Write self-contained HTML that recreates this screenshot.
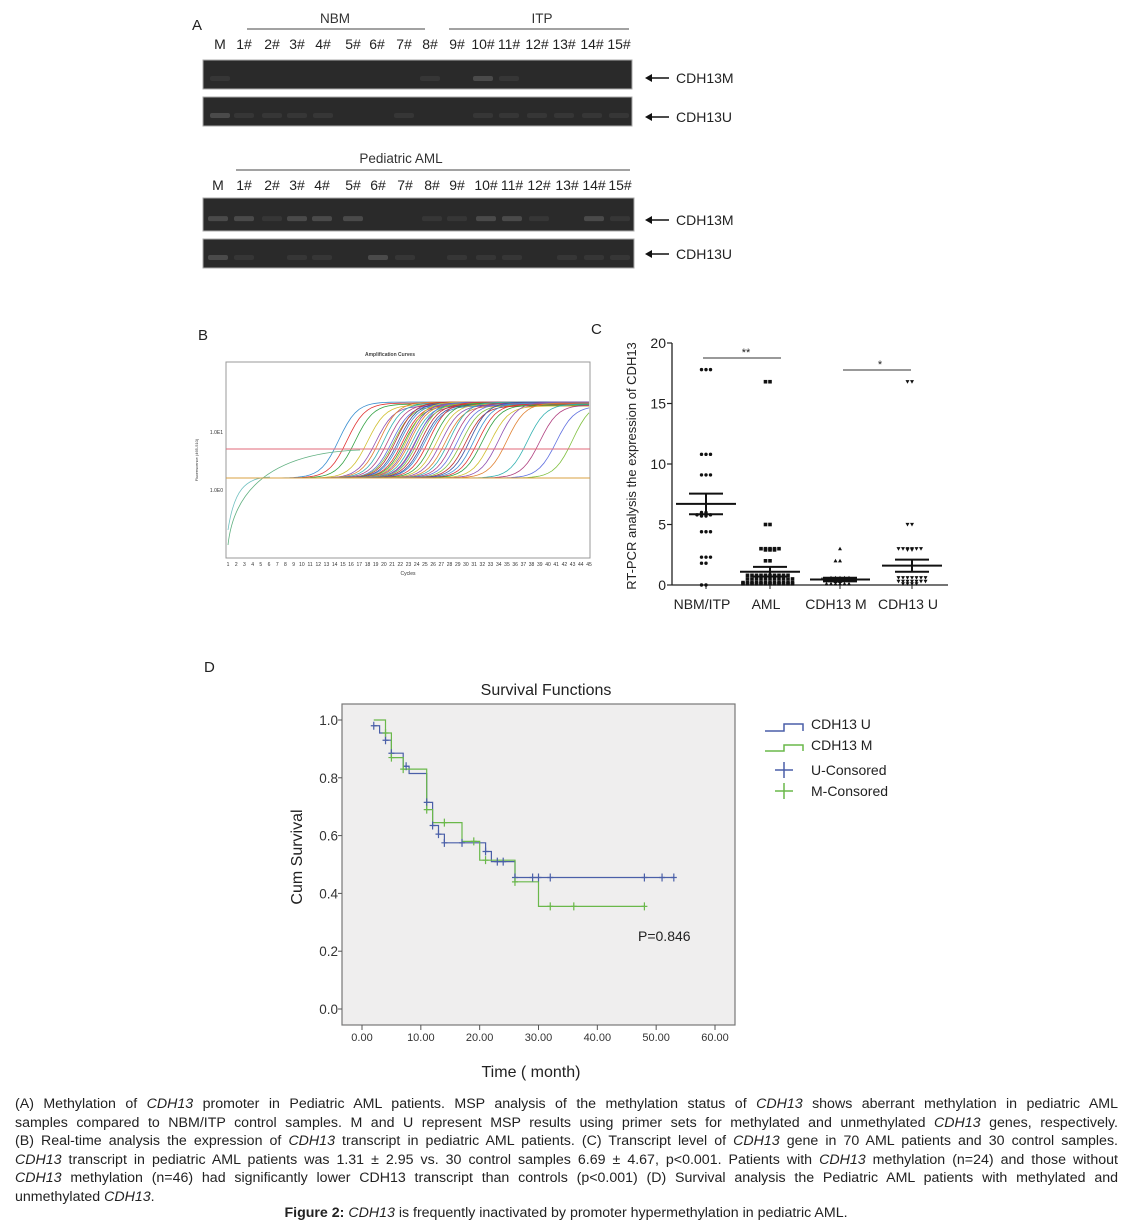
<!DOCTYPE html>
<html><head><meta charset="utf-8">
<style>
html,body{margin:0;padding:0;background:#fff;}
body{width:1132px;height:1228px;position:relative;overflow:hidden;font-family:"Liberation Sans",Arial,sans-serif;}
svg{position:absolute;left:0;top:0;}
.cap{position:absolute;left:15px;width:1103px;font-size:14.2px;line-height:18.4px;color:#222;text-align:justify;text-align-last:justify;white-space:nowrap;}
.cap.last{text-align-last:left;}
</style></head>
<body>
<svg id="fig" width="1132" height="1228" viewBox="0 0 1132 1228" xmlns="http://www.w3.org/2000/svg" font-family="Liberation Sans, Arial, sans-serif">
  <g>
    <text x="192" y="30" font-size="15" fill="#222">A</text>
    <text x="335" y="23" font-size="13.5" text-anchor="middle" fill="#333">NBM</text>
    <line x1="247" y1="29" x2="425" y2="29" stroke="#444" stroke-width="1"/>
    <text x="542" y="23" font-size="13.5" text-anchor="middle" fill="#333">ITP</text>
    <line x1="449" y1="29" x2="629" y2="29" stroke="#444" stroke-width="1"/>
    <text x="401" y="163" font-size="13.5" text-anchor="middle" fill="#333">Pediatric  AML</text>
    <line x1="236" y1="170" x2="630" y2="170" stroke="#444" stroke-width="1"/>
    <g id="gels"></g>
    <g font-size="14" fill="#222">
      <text x="676" y="83">CDH13M</text><text x="676" y="122">CDH13U</text>
      <text x="676" y="225">CDH13M</text><text x="676" y="259">CDH13U</text>
    </g>
    <g stroke="#111" stroke-width="1.6">
      <line x1="648" y1="78" x2="669" y2="78"/><line x1="648" y1="117" x2="669" y2="117"/>
      <line x1="648" y1="220" x2="669" y2="220"/><line x1="648" y1="254" x2="669" y2="254"/>
    </g>
    <g fill="#111">
      <polygon points="645,78 652,74 652,82"/><polygon points="645,117 652,113 652,121"/>
      <polygon points="645,220 652,216 652,224"/><polygon points="645,254 652,250 652,258"/>
    </g>
  </g>

  <g>
    <text x="198" y="340" font-size="15" fill="#222">B</text>
    <text x="390" y="356" font-size="5" font-weight="bold" text-anchor="middle" fill="#444">Amplification Curves</text>
    <rect x="226" y="362" width="364" height="196" fill="#fff" stroke="#999" stroke-width="1"/>
    <text x="223" y="434" font-size="5" text-anchor="end" fill="#333">1.0E1</text>
    <text x="223" y="492" font-size="5" text-anchor="end" fill="#333">1.0E0</text>
    <text x="198" y="460" font-size="4" fill="#333" transform="rotate(-90 198 460)" text-anchor="middle">Fluorescence (465-510)</text>
    <g id="amp"></g>
    <line x1="226" y1="449" x2="590" y2="449" stroke="#e06a7a" stroke-width="1"/>
    <line x1="226" y1="478" x2="590" y2="478" stroke="#d9a040" stroke-width="1"/>
    <g id="cycleTicks" font-size="5" fill="#333" text-anchor="middle"></g>
    <text x="408" y="575" font-size="5" text-anchor="middle" fill="#333">Cycles</text>
  </g>

  <g>
    <text x="591" y="334" font-size="15" fill="#222">C</text>
    <text x="636" y="466" font-size="13" text-anchor="middle" fill="#222" transform="rotate(-90 636 466)">RT-PCR analysis the expression of CDH13</text>
    <g id="scatter"></g>
  </g>

  <g>
    <text x="204" y="672" font-size="15" fill="#222">D</text>
    <text x="546" y="695" font-size="16" text-anchor="middle" fill="#222">Survival Functions</text>
    <rect x="342" y="704" width="393" height="321" fill="#efeeee" stroke="#777" stroke-width="1.2"/>
    <text x="302" y="857" font-size="16" text-anchor="middle" fill="#222" transform="rotate(-90 302 857)">Cum Survival</text>
    <text x="531" y="1077" font-size="16" text-anchor="middle" fill="#222">Time ( month)</text>
    <g id="surv"></g>
    <text x="638" y="941" font-size="14" fill="#222">P=0.846</text>
    <g font-size="14" fill="#222">
      <g>
        <polyline points="765,731 784,731 784,724 803,724 803,731" fill="none" stroke="#4a5fa8" stroke-width="1.5"/>
        <text x="811" y="729">CDH13 U</text></g>
      <g>
        <polyline points="765,751 784,751 784,745 803,745 803,751" fill="none" stroke="#6ab84a" stroke-width="1.5"/>
        <text x="811" y="750">CDH13 M</text></g>
      <g>
        <line x1="775" y1="770" x2="793" y2="770" stroke="#4a5fa8" stroke-width="1.5"/><line x1="784" y1="762" x2="784" y2="778" stroke="#4a5fa8" stroke-width="1.5"/>
        <text x="811" y="775">U-Consored</text></g>
      <g>
        <line x1="775" y1="791" x2="793" y2="791" stroke="#6ab84a" stroke-width="1.5"/><line x1="784" y1="783" x2="784" y2="799" stroke="#6ab84a" stroke-width="1.5"/>
        <text x="811" y="796">M-Consored</text></g>
    </g>
  </g>
</svg>

<div class="cap" style="top:1095px">(A) Methylation of <i>CDH13</i> promoter in Pediatric AML patients. MSP analysis of the methylation status of <i>CDH13</i> shows aberrant methylation in pediatric AML</div>
<div class="cap" style="top:1113.5px">samples compared to NBM/ITP control samples. M and U represent MSP results using primer sets for methylated and unmethylated <i>CDH13</i> genes, respectively.</div>
<div class="cap" style="top:1132px">(B) Real-time analysis the expression of <i>CDH13</i> transcript in pediatric AML patients. (C) Transcript level of <i>CDH13</i> gene in 70 AML patients and 30 control samples.</div>
<div class="cap" style="top:1150.5px"><i>CDH13</i> transcript in pediatric AML patients was 1.31 ± 2.95 vs. 30 control samples 6.69 ± 4.67, p&lt;0.001. Patients with <i>CDH13</i> methylation (n=24) and those without</div>
<div class="cap" style="top:1169px"><i>CDH13</i> methylation (n=46) had significantly lower CDH13 transcript than controls (p&lt;0.001) (D) Survival analysis the Pediatric AML patients with methylated and</div>
<div class="cap last" style="top:1187.5px">unmethylated <i>CDH13</i>.</div>
<div style="position:absolute;left:0;width:1132px;top:1205px;text-align:center;font-size:14.2px;color:#222;"><b>Figure 2:</b> <i>CDH13</i> is frequently inactivated by promoter hypermethylation in pediatric AML.</div>

<script>
const groups = ["NBM/ITP","AML","CDH13 M","CDH13 U"];
const nbmVals = [17.8,17.8,17.8,10.8,10.8,10.8,9.1,9.1,9.1,6.0,6.0,5.9,5.8,5.8,5.8,5.8,5.7,5.7,5.9,4.4,4.4,4.4,2.3,2.3,2.3,1.8,1.8,0,0];
const amlVals = [16.8,16.8,5.0,5.0,3.0,3.0,3.0,2.9,2.9,2.9,3.0,3.0,2.0,2.0,0.8,0.8,0.8,0.8,0.8,0.8,0.8,0.8,0.8,0.8,0.5,0.5,0.5,0.5,0.5,0.5,0.5,0.5,0.5,0.5,0.5,0.2,0.2,0.2,0.2,0.2,0.2,0.2,0.2,0.2,0.2,0.2,0.2,0.1,0.1,0.1,0.1,0.1,0.1,0.1,0.1,0.1,0.1,0.1,0.1];
const mVals = [3.0,2.0,2.0,0.6,0.6,0.6,0.6,0.6,0.5,0.5,0.5,0.5,0.5,0.5,0.5,0.5,0.3,0.3,0.1,0.1,0.1,0.1,0.1,0.1];
const uVals = [16.8,16.8,5.0,5.0,3.0,3.0,2.9,2.9,3.0,3.0,3.0,3.0,0.6,0.6,0.6,0.6,0.6,0.6,0.6,0.3,0.3,0.3,0.3,0.3,0.3,0.3,0.1,0.1,0.1,0.1];
const groupMeans = [6.7,1.1,0.45,1.6];
const groupSem = [0.85,0.4,0.15,0.5];
const yTicksC = [0,5,10,15,20];

const uSteps = [[0,0.98],[3,0.955],[4,0.93],[5,0.885],[7,0.84],[8,0.815],[11,0.715],[12,0.635],[13,0.605],[14,0.575],[21,0.545],[22,0.51],[26,0.455],[53,0.455]];
const mSteps = [[0,1.0],[4,0.955],[5,0.87],[7,0.83],[11,0.69],[12,0.645],[17,0.58],[20,0.515],[26,0.44],[30,0.355],[48,0.355]];
const uCensorT = [2,4,5,7.5,11,12,13,14,17,21,23,24,26,29,30,32,48,51,53];
const mCensorT = [4,5,7,11,14,19,21,26,32,36,48];
const survTicksY = [0,0.2,0.4,0.6,0.8,1.0];
const survTicksX = [0,10,20,30,40,50,60];
const survStart = {u:2, m:2};

const ctValues = [14.5,15.5,16.5,18,19,19.5,20,20.5,21,21.2,21.5,21.8,22,22.3,22.5,22.8,23,23.2,23.5,23.8,24,24.2,24.5,24.8,25,25.5,26,26.5,27,27.5,28,28.5,29,29.5,30,30.5,31,31.5,32,33,34,35,37.5,39,41,43];
const curveColors = ["#3a8fd0","#e03030","#30a040","#d0c030","#9050b0","#e08030","#30b0b0","#b04080","#6070e0","#80c040","#c03030","#4050a0"];

const NS = "http://www.w3.org/2000/svg";
function mk(parent, tag, attrs){ const e=document.createElementNS(NS,tag); for(const k in attrs) e.setAttribute(k,attrs[k]); parent.appendChild(e); return e; }

(function(){
  const g=document.getElementById('gels');
  const labels=["M","1#","2#","3#","4#","5#","6#","7#","8#","9#","10#","11#","12#","13#","14#","15#"];
  const lanesTopX=[220,244,272,297,323,353,377,404,430,457,483,509,537,564,592,619];
  const lanesBotX=[218,244,272,297,322,353,378,405,432,457,486,512,539,567,594,620];
  const lab=mk(g,'g',{'font-size':'14','fill':'#222','text-anchor':'middle'});
  labels.forEach((t,i)=>{ const a=mk(lab,'text',{x:lanesTopX[i],y:49}); a.textContent=t;
    const b=mk(lab,'text',{x:lanesBotX[i],y:190}); b.textContent=t; });
  const gelsDef=[[203,60,429,29,lanesTopX,[1,0,0,0,0,0,0,0,1,0,2,1,0,0,0,0]],
                 [203,97,429,29,lanesTopX,[2,1,1,1,1,0,0,1,0,0,1,1,1,1,1,1]],
                 [203,198,431,33,lanesBotX,[2,2,1,2,2,2,0,0,1,1,2,2,1,0,2,1]],
                 [203,239,431,29,lanesBotX,[2,1,0,1,1,0,2,1,0,1,1,1,0,1,1,1]]];
  gelsDef.forEach((d,gi)=>{
    const r=mk(g,'rect',{x:d[0],y:d[1],width:d[2],height:d[3],fill:'#2a2a2a',stroke:'#aaa','stroke-width':1});
    
    
    d[4].forEach((lx,i)=>{
      const s=d[5][i]; if(!s) return;
      mk(g,'rect',{x:lx-10,y:d[1]+d[3]*0.55,width:20,height:5,rx:2,fill:s==2?'#4a4a4a':'#363636'});
    });
  });
})();

(function(){
  const g=document.getElementById('amp');
  const x0=228,x1=589; const cx=c=>x0+(c-1)*(x1-x0)/44;
  const base=478, plat=402;
  ctValues.forEach((ct,i)=>{
    let d='';
    for(let c=1;c<=45;c+=0.5){
      const y=base-(base-plat-(i%5))/(1+Math.exp(-(c-ct)*0.9));
      d+=(d?'L':'M')+cx(c).toFixed(1)+','+y.toFixed(1);
    }
    const p=mk(g,'path',{d:d,fill:'none',stroke:curveColors[i%curveColors.length],'stroke-width':0.8});
    
    
  });
  mk(g,'path',{d:'M228,530 C234,490 245,478 270,477',fill:'none',stroke:'#70c0c0','stroke-width':0.8});
  mk(g,'path',{d:'M228,545 C236,470 300,452 360,450',fill:'none',stroke:'#60b080','stroke-width':0.8});
  const t=document.getElementById('cycleTicks');
  for(let c=1;c<=45;c++){ const e=mk(t,'text',{x:cx(c),y:566}); e.textContent=c; }
})();

(function(){
  const g=document.getElementById('scatter');
  const ax=672, y0=585, yTop=343;
  const Y=v=>y0-(v/20)*(y0-yTop);
  const gx=[706,770,840,912];
  mk(g,'line',{x1:ax,y1:yTop,x2:ax,y2:y0,stroke:'#222','stroke-width':1.3});
  mk(g,'line',{x1:ax,y1:y0,x2:948,y2:y0,stroke:'#222','stroke-width':1.3});
  yTicksC.forEach(v=>{
    mk(g,'line',{x1:ax-5,y1:Y(v),x2:ax,y2:Y(v),stroke:'#222','stroke-width':1.2});
    const e=mk(g,'text',{x:ax-6,y:Y(v)+5,'font-size':14,'text-anchor':'end',fill:'#222'}); e.textContent=v;
  });
  groups.forEach((n,i)=>{
    mk(g,'line',{x1:gx[i],y1:y0,x2:gx[i],y2:y0+4,stroke:'#222'});
    const e=mk(g,'text',{x:gx[i]-4,y:609,'font-size':14,'text-anchor':'middle',fill:'#222'}); e.textContent=n;
    
    
  });
  const sets=[nbmVals,amlVals,mVals,uVals];
  sets.forEach((vals,gi)=>{
    const counts={};
    vals.forEach(v=>{
      const key=v.toFixed(1); const k=counts[key]=(counts[key]||0)+1;
      const off=(k%2?1:-1)*Math.floor(k/2)*4.5;
      const x=gx[gi]+off, y=Y(v);
      let m;
      if(gi<2) m=mk(g,gi==0?'circle':'rect', gi==0?{cx:x,cy:y,r:1.7,fill:'#111'}:{x:x-1.8,y:y-1.8,width:3.6,height:3.6,fill:'#111'});
      else if(gi==2) m=mk(g,'polygon',{points:`${x},${y-2} ${x-2},${y+1.6} ${x+2},${y+1.6}`,fill:'#111'});
      else m=mk(g,'polygon',{points:`${x},${y+2} ${x-2},${y-1.6} ${x+2},${y-1.6}`,fill:'#111'});
      
      
    });
    const mx=gx[gi], mean=groupMeans[gi], sem=groupSem[gi];
    mk(g,'line',{x1:mx-30,y1:Y(mean),x2:mx+30,y2:Y(mean),stroke:'#111','stroke-width':2});
    mk(g,'line',{x1:mx-17,y1:Y(mean+sem),x2:mx+17,y2:Y(mean+sem),stroke:'#111','stroke-width':2});
    mk(g,'line',{x1:mx-17,y1:Y(mean-sem),x2:mx+17,y2:Y(mean-sem),stroke:'#111','stroke-width':2});
    mk(g,'line',{x1:mx,y1:Y(mean+sem),x2:mx,y2:Y(mean-sem),stroke:'#111','stroke-width':2});
  });
  mk(g,'line',{x1:703,y1:358,x2:781,y2:358,stroke:'#333','stroke-width':1});
  mk(g,'text',{x:746,y:356,'font-size':11,'text-anchor':'middle',fill:'#222'}).textContent='**';
  mk(g,'line',{x1:843,y1:370,x2:911,y2:370,stroke:'#333','stroke-width':1});
  mk(g,'text',{x:880,y:368,'font-size':11,'text-anchor':'middle',fill:'#222'}).textContent='*';
})();

(function(){
  const g=document.getElementById('surv');
  const X=t=>362+t*(715-362)/60, Y=s=>1009-s*(1009-720);
  survTicksY.forEach(v=>{
    mk(g,'line',{x1:338,y1:Y(v),x2:342,y2:Y(v),stroke:'#555'});
    const e=mk(g,'text',{x:338,y:Y(v)+5,'font-size':13.5,'text-anchor':'end',fill:'#333'}); e.textContent=v.toFixed(1);
  });
  survTicksX.forEach(v=>{
    mk(g,'line',{x1:X(v),y1:1025,x2:X(v),y2:1030,stroke:'#555'});
    const e=mk(g,'text',{x:X(v),y:1041,'font-size':11,'text-anchor':'middle',fill:'#333'}); e.textContent=v.toFixed(2);
  });
  function stepPath(steps,start){
    let d='M'+X(start)+','+Y(steps[0][1]);
    for(let i=1;i<steps.length;i++){ d+=' H'+X(steps[i][0]).toFixed(1)+' V'+Y(steps[i][1]).toFixed(1); }
    return d;
  }
  function sAt(steps,t){ let s=steps[0][1]; steps.forEach(p=>{ if(p[0]<=t) s=p[1]; }); return s; }
  const pu=mk(g,'path',{d:stepPath(uSteps,survStart.u),fill:'none',stroke:'#4a5fa8','stroke-width':1.2});
  
  
  const pm=mk(g,'path',{d:stepPath(mSteps,survStart.m),fill:'none',stroke:'#6ab84a','stroke-width':1.2});
  
  
  [[uCensorT,uSteps,'#4a5fa8'],[mCensorT,mSteps,'#6ab84a']].forEach(([ts,st,col])=>{
    ts.forEach(t=>{
      const x=X(t), y=Y(sAt(st,t));
      const c=mk(g,'path',{d:`M${x-3},${y}H${x+3}M${x},${y-4}V${y+4}`,stroke:col,'stroke-width':1.2});
      
      
    });
  });
})();
</script>
</body></html>
